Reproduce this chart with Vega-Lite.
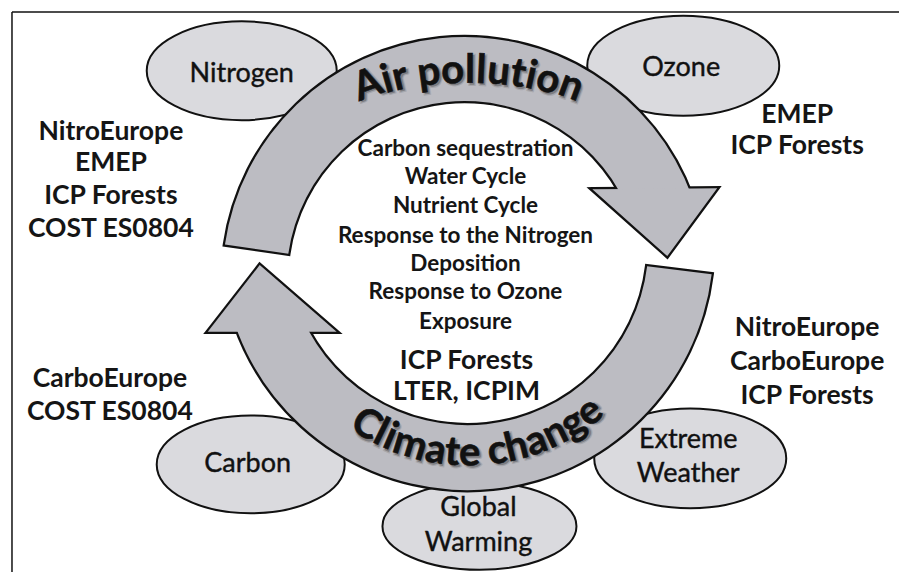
{
  "$schema": "https://vega.github.io/schema/vega-lite/v6.json",
  "width": 900,
  "height": 574,
  "autosize": {"type": "fit", "contains": "padding"},
  "padding": 0,
  "background": "white",
  "config": {"view": {"stroke": null}},
  "datasets": {
    "border": [
      {"x": 12, "y": 12, "x2": 900, "y2": 12},
      {"x": 12, "y": 12, "x2": 12, "y2": 574}
    ],
    "ellipses": [
      {"name": "Nitrogen", "x": 242, "y": 71, "rx": 95, "kind": "wide"},
      {"name": "Ozone", "x": 684, "y": 66, "rx": 96, "kind": "wide"},
      {"name": "Carbon", "x": 251, "y": 466, "rx": 94, "kind": "wide"},
      {"name": "Global Warming", "x": 480, "y": 528, "rx": 97, "kind": "narrow"},
      {"name": "Extreme Weather", "x": 691, "y": 460, "rx": 96, "kind": "wide"}
    ],
    "bands": [
      {"band": "Air pollution", "cx": 465, "cy": 280, "t1": -1.4277, "t2": 1.2217, "r0": 178, "r1": 242},
      {"band": "Climate change", "cx": 468, "cy": 245, "t1": 1.693, "t2": 4.3808, "r0": 181, "r1": 246}
    ],
    "heads": [
      {"head": "top", "x": 593, "y": 190, "y2": 190},
      {"head": "top", "x": 668, "y": 189.4, "y2": 257},
      {"head": "top", "x": 718, "y": 189, "y2": 189},
      {"head": "bottom", "x": 208, "y": 333, "y2": 333},
      {"head": "bottom", "x": 260, "y": 266, "y2": 333},
      {"head": "bottom", "x": 337, "y": 333, "y2": 333}
    ],
    "curved": [
      {"ch": "A", "x": 372.4, "y": 97.0, "rot": -19.8},
      {"ch": "i", "x": 390.7, "y": 92.1, "rot": -16.0},
      {"ch": "r", "x": 403.2, "y": 89.4, "rot": -13.4},
      {"ch": "p", "x": 430.9, "y": 85.1, "rot": -7.7},
      {"ch": "o", "x": 453.6, "y": 83.3, "rot": -3.1},
      {"ch": "l", "x": 470.4, "y": 83.0, "rot": 0.3},
      {"ch": "l", "x": 481.2, "y": 83.2, "rot": 2.5},
      {"ch": "u", "x": 498.0, "y": 84.2, "rot": 5.9},
      {"ch": "t", "x": 516.6, "y": 86.3, "rot": 9.7},
      {"ch": "i", "x": 529.3, "y": 88.4, "rot": 12.3},
      {"ch": "o", "x": 545.7, "y": 91.8, "rot": 15.6},
      {"ch": "n", "x": 567.7, "y": 97.7, "rot": 20.3},
      {"ch": "C", "x": 360.2, "y": 436.6, "rot": 31.2},
      {"ch": "l", "x": 376.1, "y": 445.3, "rot": 26.2},
      {"ch": "i", "x": 386.0, "y": 449.9, "rot": 23.3},
      {"ch": "m", "x": 407.2, "y": 457.7, "rot": 17.1},
      {"ch": "a", "x": 434.2, "y": 464.1, "rot": 9.6},
      {"ch": "t", "x": 452.0, "y": 466.3, "rot": 4.6},
      {"ch": "e", "x": 470.2, "y": 467.0, "rot": -0.3},
      {"ch": "c", "x": 499.5, "y": 464.8, "rot": -8.4},
      {"ch": "h", "x": 519.9, "y": 460.7, "rot": -14.0},
      {"ch": "a", "x": 540.9, "y": 454.3, "rot": -20.0},
      {"ch": "n", "x": 561.1, "y": 445.7, "rot": -26.0},
      {"ch": "g", "x": 580.2, "y": 435.2, "rot": -32.0},
      {"ch": "e", "x": 597.6, "y": 423.0, "rot": -37.8}
    ],
    "labels": [
      {"t": "NitroEurope", "x": 111, "y": 132, "g": "side"},
      {"t": "EMEP", "x": 111, "y": 164, "g": "side"},
      {"t": "ICP Forests", "x": 111, "y": 197, "g": "side"},
      {"t": "COST ES0804", "x": 111, "y": 230, "g": "side"},
      {"t": "EMEP", "x": 798, "y": 115, "g": "side"},
      {"t": "ICP Forests", "x": 798, "y": 147, "g": "side"},
      {"t": "NitroEurope", "x": 808, "y": 329, "g": "side"},
      {"t": "CarboEurope", "x": 808, "y": 363, "g": "side"},
      {"t": "ICP Forests", "x": 808, "y": 397, "g": "side"},
      {"t": "CarboEurope", "x": 110, "y": 380, "g": "side"},
      {"t": "COST ES0804", "x": 110, "y": 413, "g": "side"},
      {"t": "Carbon sequestration", "x": 466, "y": 150, "g": "center"},
      {"t": "Water Cycle", "x": 466, "y": 178, "g": "center"},
      {"t": "Nutrient Cycle", "x": 466, "y": 207, "g": "center"},
      {"t": "Response to the Nitrogen", "x": 466, "y": 237, "g": "center"},
      {"t": "Deposition", "x": 466, "y": 265, "g": "center"},
      {"t": "Response to Ozone", "x": 466, "y": 293, "g": "center"},
      {"t": "Exposure", "x": 466, "y": 323, "g": "center"},
      {"t": "ICP Forests", "x": 467, "y": 362, "g": "side"},
      {"t": "LTER, ICPIM", "x": 467, "y": 393, "g": "side"},
      {"t": "Nitrogen", "x": 242, "y": 74, "g": "ellipse"},
      {"t": "Ozone", "x": 682, "y": 68, "g": "ellipse"},
      {"t": "Carbon", "x": 248, "y": 466, "g": "ellipse"},
      {"t": "Global", "x": 479, "y": 510, "g": "ellipse"},
      {"t": "Warming", "x": 479, "y": 545, "g": "ellipse"},
      {"t": "Extreme", "x": 689, "y": 442, "g": "ellipse"},
      {"t": "Weather", "x": 689, "y": 476, "g": "ellipse"}
    ]
  },
  "layer": [
    {
      "data": {"name": "border"},
      "mark": {"type": "rule", "stroke": "#111111", "strokeWidth": 1.5},
      "encoding": {
        "x": {"field": "x", "type": "quantitative", "scale": {"domain": [0, 900], "nice": false, "zero": false}, "axis": null},
        "y": {"field": "y", "type": "quantitative", "scale": {"domain": [0, 574], "reverse": true, "nice": false, "zero": false}, "axis": null},
        "x2": {"field": "x2"},
        "y2": {"field": "y2"}
      }
    },
    {
      "data": {"name": "ellipses"},
      "mark": {"type": "point", "filled": true, "fill": "#dadade", "stroke": "#111111", "strokeWidth": 2, "opacity": 1, "strokeOpacity": 1, "fillOpacity": 1},
      "encoding": {
        "x": {"field": "x", "type": "quantitative", "axis": null},
        "y": {"field": "y", "type": "quantitative", "axis": null},
        "size": {"field": "rx", "type": "quantitative", "scale": {"type": "pow", "exponent": 2, "domain": [0, 100], "range": [0, 40000]}, "legend": null},
        "shape": {"field": "kind", "type": "nominal", "scale": {"domain": ["wide", "narrow"], "range": [
          "M-1,0C-1,-0.2872,-0.5523,-0.52,0,-0.52C0.5523,-0.52,1,-0.2872,1,0C1,0.2872,0.5523,0.52,0,0.52C-0.5523,0.52,-1,0.2872,-1,0Z",
          "M-1,0C-1,-0.2485,-0.5523,-0.45,0,-0.45C0.5523,-0.45,1,-0.2485,1,0C1,0.2485,0.5523,0.45,0,0.45C-0.5523,0.45,-1,0.2485,-1,0Z"
        ]}, "legend": null}
      }
    },
    {
      "data": {"name": "bands"},
      "mark": {"type": "arc", "fill": "#bcbcc2", "stroke": "#111111", "strokeWidth": 4.5, "strokeJoin": "miter"},
      "encoding": {
        "x": {"field": "cx", "type": "quantitative", "axis": null},
        "y": {"field": "cy", "type": "quantitative", "axis": null},
        "theta": {"field": "t1", "type": "quantitative", "scale": null, "stack": null},
        "theta2": {"field": "t2"},
        "radius": {"field": "r1", "type": "quantitative", "scale": {"type": "linear", "domain": [0, 300], "range": [0, 300], "zero": true}},
        "radius2": {"field": "r0"}
      }
    },
    {
      "data": {"name": "heads"},
      "mark": {"type": "area", "fill": "#bcbcc2", "stroke": "#111111", "strokeWidth": 4.5, "strokeJoin": "miter", "opacity": 1},
      "encoding": {
        "x": {"field": "x", "type": "quantitative", "axis": null},
        "y": {"field": "y", "type": "quantitative", "axis": null},
        "y2": {"field": "y2"},
        "detail": {"field": "head", "type": "nominal"}
      }
    },
    {
      "data": {"name": "bands"},
      "mark": {"type": "arc", "fill": "#bcbcc2", "strokeWidth": 0},
      "encoding": {
        "x": {"field": "cx", "type": "quantitative", "axis": null},
        "y": {"field": "cy", "type": "quantitative", "axis": null},
        "theta": {"field": "t1", "type": "quantitative", "scale": null, "stack": null},
        "theta2": {"field": "t2"},
        "radius": {"field": "r1", "type": "quantitative"},
        "radius2": {"field": "r0"}
      }
    },
    {
      "data": {"name": "heads"},
      "mark": {"type": "area", "fill": "#bcbcc2", "strokeWidth": 0, "opacity": 1},
      "encoding": {
        "x": {"field": "x", "type": "quantitative", "axis": null},
        "y": {"field": "y", "type": "quantitative", "axis": null},
        "y2": {"field": "y2"},
        "detail": {"field": "head", "type": "nominal"}
      }
    },
    {
      "data": {"name": "curved"},
      "mark": {"type": "text", "font": "Lato", "fontSize": 40, "fontWeight": "bold", "align": "center", "baseline": "alphabetic", "fill": "#333333", "opacity": 0.45, "stroke": "#333333", "strokeWidth": 2.5, "strokeOpacity": 0.35, "dx": 2, "dy": 2},
      "encoding": {
        "x": {"field": "x", "type": "quantitative", "axis": null},
        "y": {"field": "y", "type": "quantitative", "axis": null},
        "text": {"field": "ch"},
        "angle": {"field": "rot", "type": "quantitative", "scale": null}
      }
    },
    {
      "data": {"name": "curved"},
      "mark": {"type": "text", "font": "Lato", "fontSize": 40, "fontWeight": "bold", "align": "center", "baseline": "alphabetic", "fill": "#111111", "stroke": "#111111", "strokeWidth": 0.6},
      "encoding": {
        "x": {"field": "x", "type": "quantitative", "axis": null},
        "y": {"field": "y", "type": "quantitative", "axis": null},
        "text": {"field": "ch"},
        "angle": {"field": "rot", "type": "quantitative", "scale": null}
      }
    },
    {
      "data": {"name": "labels"},
      "transform": [{"filter": "datum.g === 'side'"}],
      "mark": {"type": "text", "font": "Lato", "fontSize": 26.5, "fontWeight": "bold", "align": "center", "baseline": "middle", "fill": "#151515"},
      "encoding": {
        "x": {"field": "x", "type": "quantitative", "axis": null},
        "y": {"field": "y", "type": "quantitative", "axis": null},
        "text": {"field": "t"}
      }
    },
    {
      "data": {"name": "labels"},
      "transform": [{"filter": "datum.g === 'center'"}],
      "mark": {"type": "text", "font": "Lato", "fontSize": 22.5, "fontWeight": "bold", "align": "center", "baseline": "middle", "fill": "#151515"},
      "encoding": {
        "x": {"field": "x", "type": "quantitative", "axis": null},
        "y": {"field": "y", "type": "quantitative", "axis": null},
        "text": {"field": "t"}
      }
    },
    {
      "data": {"name": "labels"},
      "transform": [{"filter": "datum.g === 'ellipse'"}],
      "mark": {"type": "text", "font": "Lato", "fontSize": 27, "fontWeight": "normal", "align": "center", "baseline": "middle", "fill": "#111111", "stroke": "#111111", "strokeWidth": 0.4},
      "encoding": {
        "x": {"field": "x", "type": "quantitative", "axis": null},
        "y": {"field": "y", "type": "quantitative", "axis": null},
        "text": {"field": "t"}
      }
    }
  ]
}
